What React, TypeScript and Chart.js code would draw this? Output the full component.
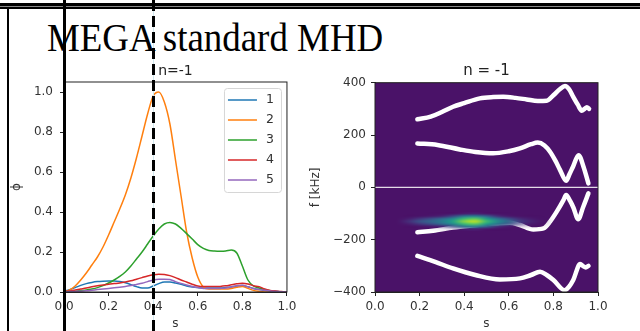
import React, { useEffect, useRef } from 'react';
import { Chart, registerables } from 'chart.js';

Chart.register(...registerables);

// ---------------- Left panel data (phi vs s) ----------------
const sGrid = [
  0, 0.025, 0.05, 0.075, 0.1, 0.125, 0.15, 0.175, 0.2, 0.225, 0.25, 0.275, 0.3, 0.325, 0.35, 0.375,
  0.4, 0.425, 0.45, 0.475, 0.5, 0.525, 0.55, 0.575, 0.6, 0.625, 0.65, 0.675, 0.7, 0.725, 0.75, 0.775,
  0.8, 0.825, 0.85, 0.875, 0.9, 0.925, 0.95, 0.975, 1.0,
];
const phi1 = [
  0.003, 0.012, 0.022, 0.033, 0.042, 0.048, 0.052, 0.054, 0.055, 0.055, 0.052, 0.046, 0.037, 0.027, 0.02, 0.02,
  0.03, 0.042, 0.05, 0.05, 0.045, 0.038, 0.03, 0.025, 0.022, 0.02, 0.02, 0.02, 0.02, 0.022, 0.025, 0.03,
  0.032, 0.026, 0.018, 0.012, 0.008, 0.005, 0.003, 0.001, 0.0,
];
const phi2 = [
  0.0, 0.01, 0.03, 0.06, 0.095, 0.135, 0.175, 0.225, 0.285, 0.35, 0.415, 0.485, 0.57, 0.67, 0.78, 0.89,
  0.98, 1.0, 0.95, 0.84, 0.66, 0.48, 0.3, 0.17, 0.075, 0.025, 0.015, 0.015, 0.015, 0.015, 0.018, 0.024,
  0.028, 0.018, 0.008, 0.003, 0.0, 0.0, 0.0, 0.0, 0.0,
];
const phi3 = [
  0.0, 0.002, 0.004, 0.007, 0.01, 0.015, 0.022, 0.032, 0.045, 0.06, 0.078, 0.1, 0.13, 0.165, 0.2, 0.24,
  0.28, 0.315, 0.34, 0.348, 0.34, 0.318, 0.292, 0.265, 0.237, 0.218, 0.208, 0.205, 0.204, 0.205, 0.21, 0.195,
  0.13, 0.06, 0.03, 0.02, 0.012, 0.006, 0.003, 0.001, 0.0,
];
const phi4 = [
  0.002, 0.005, 0.01, 0.015, 0.02, 0.026, 0.031, 0.035, 0.039, 0.042, 0.045, 0.05, 0.056, 0.064, 0.072, 0.08,
  0.086, 0.089, 0.088, 0.082, 0.072, 0.06, 0.05, 0.039, 0.03, 0.027, 0.027, 0.027, 0.028, 0.031, 0.036, 0.041,
  0.044, 0.04, 0.031, 0.027, 0.015, 0.008, 0.005, 0.002, 0.0,
];
const phi5 = [
  0.001, 0.002, 0.003, 0.004, 0.006, 0.009, 0.012, 0.015, 0.018, 0.021, 0.024, 0.027, 0.032, 0.038, 0.044, 0.052,
  0.06, 0.064, 0.064, 0.062, 0.052, 0.043, 0.035, 0.028, 0.022, 0.018, 0.017, 0.017, 0.018, 0.02, 0.025, 0.031,
  0.034, 0.026, 0.018, 0.013, 0.009, 0.005, 0.003, 0.001, 0.0,
];
const seriesLabels = ['1', '2', '3', '4', '5'];
const seriesColors = ['#1f77b4', '#ff7f0e', '#2ca02c', '#d62728', '#9467bd'];
const sTicks = [0, 0.2, 0.4, 0.6, 0.8, 1.0];
const phiTicks = [0, 0.2, 0.4, 0.6, 0.8, 1.0];

// ---------------- Right panel data (f vs s) ----------------
const up1S = [0.19, 0.25, 0.3, 0.35, 0.4, 0.47, 0.53, 0.575, 0.63, 0.68, 0.73, 0.77, 0.8, 0.83, 0.852, 0.87, 0.889, 0.91, 0.927, 0.94, 0.95, 0.96];
const up1F = [260, 270, 288, 308, 322, 340, 345, 346, 342, 336, 330, 331, 352, 376, 387, 375, 346, 315, 293, 300, 306, 300];
const up2S = [0.19, 0.28, 0.38, 0.45, 0.53, 0.6, 0.65, 0.7, 0.73, 0.76, 0.785, 0.81, 0.83, 0.857, 0.872, 0.888, 0.913, 0.935, 0.957];
const up2F = [168, 162, 145, 135, 130, 138, 149, 165, 171, 160, 136, 100, 66, 25, 50, 79, 123, 79, 15];
const lo1S = [0.19, 0.26, 0.35, 0.43, 0.5, 0.56, 0.605, 0.65, 0.71, 0.755, 0.785, 0.815, 0.845, 0.857, 0.875, 0.89, 0.911, 0.934, 0.957];
const lo1F = [-172, -166, -154, -146, -140, -136, -135, -144, -161, -157, -131, -93, -49, -29, -52, -78, -122, -74, -23];
const lo2S = [0.19, 0.27, 0.35, 0.45, 0.56, 0.65, 0.7, 0.74, 0.77, 0.8, 0.85, 0.87, 0.889, 0.92, 0.935, 0.945, 0.957];
const lo2F = [-262, -285, -310, -335, -352, -348, -335, -323, -335, -354, -393, -380, -354, -293, -302, -306, -300];
const zeroS = [0, 1];
const zeroF = [0, 0];
const fTicks = [-400, -200, 0, 200, 400];

// spectral blob cells: rows = frequencies, cols = s
const blobS = [0.1, 0.15, 0.2, 0.25, 0.3, 0.35, 0.4, 0.45, 0.5, 0.55, 0.6, 0.65, 0.7, 0.75, 0.8];
const blobF = [-100, -110, -120, -130, -140, -150, -160];
const blobGrid = [
  [0, 0, 0, 0.01, 0.02, 0.05, 0.1, 0.12, 0.07, 0.03, 0.01, 0, 0, 0, 0],
  [0, 0.03, 0.07, 0.1, 0.15, 0.24, 0.38, 0.42, 0.3, 0.18, 0.1, 0.06, 0.03, 0.01, 0],
  [0, 0.12, 0.2, 0.26, 0.34, 0.47, 0.68, 0.75, 0.55, 0.38, 0.26, 0.17, 0.11, 0.05, 0],
  [0, 0.18, 0.27, 0.33, 0.42, 0.58, 0.82, 0.9, 0.68, 0.48, 0.33, 0.22, 0.15, 0.08, 0],
  [0, 0.12, 0.2, 0.26, 0.34, 0.47, 0.68, 0.75, 0.55, 0.38, 0.26, 0.17, 0.11, 0.05, 0],
  [0, 0.03, 0.07, 0.1, 0.15, 0.24, 0.38, 0.42, 0.3, 0.18, 0.1, 0.06, 0.03, 0.01, 0],
  [0, 0, 0, 0.01, 0.02, 0.05, 0.1, 0.12, 0.07, 0.03, 0.01, 0, 0, 0, 0],
];

const FONT = "'DejaVu Sans'";
const TXT = '#333';
const BG_PURPLE = '#4a1268';

const VIRIDIS = [
  [68, 1, 84], [72, 36, 117], [65, 68, 135], [53, 95, 141], [42, 120, 142], [33, 145, 140],
  [34, 168, 132], [68, 191, 112], [122, 209, 81], [189, 223, 38], [253, 231, 37],
];
function viridis(v: number): number[] {
  const t = Math.max(0, Math.min(1, v)) * 10;
  const i = Math.min(9, Math.floor(t));
  const f = t - i;
  const a = VIRIDIS[i], b = VIRIDIS[i + 1];
  return [0, 1, 2].map((k) => Math.round(a[k] + (b[k] - a[k]) * f));
}

const framePlugin = {
  id: 'frame',
  afterDraw(chart: any) {
    const { ctx, chartArea } = chart;
    ctx.save();
    ctx.strokeStyle = '#222';
    ctx.lineWidth = 1;
    ctx.strokeRect(chartArea.left, chartArea.top, chartArea.right - chartArea.left, chartArea.bottom - chartArea.top);
    ctx.restore();
  },
};

const legendPlugin = {
  id: 'insideLegend',
  afterDatasetsDraw(chart: any) {
    const { ctx, chartArea } = chart;
    const w = 57, h = 104;
    const x0 = chartArea.right - 6 - w;
    const y0 = chartArea.top + 6;
    ctx.save();
    ctx.beginPath();
    if (ctx.roundRect) ctx.roundRect(x0 + 0.5, y0 + 0.5, w, h, 3);
    else ctx.rect(x0 + 0.5, y0 + 0.5, w, h);
    ctx.fillStyle = 'rgba(255,255,255,0.8)';
    ctx.fill();
    ctx.strokeStyle = '#d6d6d6';
    ctx.lineWidth = 1;
    ctx.stroke();
    chart.data.datasets.forEach((ds: any, i: number) => {
      const cy = y0 + 12 + i * 20;
      ctx.beginPath();
      ctx.strokeStyle = ds.borderColor;
      ctx.lineWidth = 1.5;
      ctx.moveTo(x0 + 4, cy);
      ctx.lineTo(x0 + 33, cy);
      ctx.stroke();
      ctx.fillStyle = TXT;
      ctx.font = `12.5px ${FONT}`;
      ctx.textBaseline = 'middle';
      ctx.textAlign = 'left';
      ctx.fillText(ds.label, x0 + 42, cy);
    });
    ctx.restore();
  },
};

const purpleBgPlugin = {
  id: 'purpleBg',
  beforeDatasetsDraw(chart: any) {
    const { ctx, chartArea } = chart;
    ctx.save();
    ctx.fillStyle = BG_PURPLE;
    ctx.fillRect(chartArea.left, chartArea.top, chartArea.right - chartArea.left, chartArea.bottom - chartArea.top);
    ctx.restore();
  },
};

const blobPlugin = {
  id: 'blob',
  afterDatasetsDraw(chart: any) {
    const { ctx, chartArea, scales } = chart;
    const rows = blobF.length, cols = blobS.length;
    const off = document.createElement('canvas');
    off.width = cols;
    off.height = rows;
    const octx = off.getContext('2d');
    if (!octx) return;
    const img = octx.createImageData(cols, rows);
    for (let r = 0; r < rows; r++) {
      for (let c = 0; c < cols; c++) {
        const v = blobGrid[r][c];
        const col = viridis(Math.max(v, 0.03));
        const idx = (r * cols + c) * 4;
        img.data[idx] = col[0];
        img.data[idx + 1] = col[1];
        img.data[idx + 2] = col[2];
        img.data[idx + 3] = Math.round(255 * Math.min(1, v * 3.5));
      }
    }
    octx.putImageData(img, 0, 0);
    const hs = (blobS[1] - blobS[0]) / 2;
    const hf = (blobF[0] - blobF[1]) / 2;
    const x0 = scales.x.getPixelForValue(blobS[0] - hs);
    const x1 = scales.x.getPixelForValue(blobS[cols - 1] + hs);
    const y0 = scales.y.getPixelForValue(blobF[0] + hf);
    const y1 = scales.y.getPixelForValue(blobF[rows - 1] - hf);
    ctx.save();
    ctx.beginPath();
    ctx.rect(chartArea.left, chartArea.top, chartArea.right - chartArea.left, chartArea.bottom - chartArea.top);
    ctx.clip();
    ctx.imageSmoothingEnabled = true;
    ctx.imageSmoothingQuality = 'high';
    ctx.drawImage(off, x0, y0, x1 - x0, y1 - y0);
    ctx.restore();
  },
};

function axisCommon(extra: any) {
  return {
    type: 'linear',
    ticks: {
      font: { family: FONT, size: 12 },
      color: TXT,
      autoSkip: false,
      maxRotation: 0,
      ...extra.ticks,
    },
    grid: { display: true, drawOnChartArea: false, drawTicks: true, tickLength: 4, color: '#222', lineWidth: 1 },
    border: { display: true, color: '#222', width: 1 },
    title: { display: true, color: TXT, font: { family: FONT, size: 12 }, ...extra.title },
    min: extra.min,
    max: extra.max,
    afterFit: extra.afterFit,
    afterBuildTicks: extra.afterBuildTicks,
  };
}

export default function App() {
  const leftRef = useRef<HTMLCanvasElement | null>(null);
  const rightRef = useRef<HTMLCanvasElement | null>(null);

  useEffect(() => {
    const phiSeries = [phi1, phi2, phi3, phi4, phi5];
    const left = new Chart(leftRef.current as HTMLCanvasElement, {
      type: 'scatter',
      data: {
        datasets: phiSeries.map((vals, i) => ({
          label: seriesLabels[i],
          data: sGrid.map((s, j) => ({ x: s, y: vals[j] })),
          showLine: true,
          borderColor: seriesColors[i],
          backgroundColor: seriesColors[i],
          borderWidth: 1.5,
          pointRadius: 0,
          cubicInterpolationMode: 'monotone',
          order: phiSeries.length - i,
        })),
      },
      options: {
        animation: false,
        responsive: false,
        devicePixelRatio: 1,
        events: [],
        layout: { padding: { top: 22, right: 13, bottom: 0, left: 0 } },
        plugins: { legend: { display: false }, tooltip: { enabled: false }, title: { display: false } },
        scales: {
          x: axisCommon({
            min: 0,
            max: 1,
            ticks: { padding: 3.5, callback: (v: any) => Number(v).toFixed(1) },
            title: { text: 's', padding: { top: 0, bottom: 0 } },
            afterFit: (s: any) => { s.height = 39; },
            afterBuildTicks: (s: any) => { s.ticks = sTicks.map((v) => ({ value: v })); },
          }),
          y: axisCommon({
            min: 0,
            max: 1.05,
            ticks: { padding: 7, callback: (v: any) => Number(v).toFixed(1) },
            title: { text: 'ϕ', padding: { top: 10, bottom: 0 } },
            afterFit: (s: any) => { s.width = 64; },
            afterBuildTicks: (s: any) => { s.ticks = phiTicks.map((v) => ({ value: v })); },
          }),
        },
      } as any,
      plugins: [framePlugin, legendPlugin],
    } as any);

    const curves = [
      [up1S, up1F],
      [up2S, up2F],
      [lo1S, lo1F],
      [lo2S, lo2F],
    ];
    const right = new Chart(rightRef.current as HTMLCanvasElement, {
      type: 'scatter',
      data: {
        datasets: [
          {
            label: 'zero',
            data: zeroS.map((s, j) => ({ x: s, y: zeroF[j] })),
            showLine: true,
            borderColor: 'rgba(255,255,255,0.85)',
            borderWidth: 1.3,
            pointRadius: 0,
          },
          ...curves.map(([ss, ff], i) => ({
            label: 'continuum ' + (i + 1),
            data: ss.map((s, j) => ({ x: s, y: ff[j] })),
            showLine: true,
            borderColor: '#ffffff',
            borderWidth: 4.5,
            borderCapStyle: 'round',
            borderJoinStyle: 'round',
            pointRadius: 0,
            cubicInterpolationMode: 'monotone',
          })),
        ],
      },
      options: {
        animation: false,
        responsive: false,
        devicePixelRatio: 1,
        events: [],
        layout: { padding: { top: 22.7, right: 42, bottom: 0, left: 0 } },
        plugins: { legend: { display: false }, tooltip: { enabled: false }, title: { display: false } },
        scales: {
          x: axisCommon({
            min: 0,
            max: 1,
            ticks: { padding: 3.5, callback: (v: any) => Number(v).toFixed(1) },
            title: { text: 's', padding: { top: 0, bottom: 0 } },
            afterFit: (s: any) => { s.height = 39; },
            afterBuildTicks: (s: any) => { s.ticks = sTicks.map((v) => ({ value: v })); },
          }),
          y: axisCommon({
            min: -400,
            max: 400,
            ticks: { padding: 5, callback: (v: any) => String(v).replace('-', '\u2212') },
            title: { text: 'f [kHz]', padding: { top: 9, bottom: 0 } },
            afterFit: (s: any) => { s.width = 75; },
            afterBuildTicks: (s: any) => { s.ticks = fTicks.map((v) => ({ value: v })); },
          }),
        },
      } as any,
      plugins: [purpleBgPlugin, blobPlugin, framePlugin],
    } as any);

    return () => {
      left.destroy();
      right.destroy();
    };
  }, []);

  const abs = (s: React.CSSProperties): React.CSSProperties => ({ position: 'absolute', ...s });

  return (
    <div
      style={{
        position: 'fixed',
        left: 0,
        top: 0,
        width: 640,
        height: 331,
        overflow: 'hidden',
        background: '#ffffff',
      }}
    >
      <canvas ref={leftRef} width={300} height={271} style={abs({ left: 0, top: 60 })} />
      <canvas ref={rightRef} width={340} height={271} style={abs({ left: 300, top: 60 })} />

      <div
        style={abs({
          left: 75.5,
          top: 62,
          width: 200,
          textAlign: 'center',
          font: `14px ${FONT}`,
          lineHeight: '16px',
          color: '#222',
        })}
      >
        n=-1
      </div>
      <div
        style={abs({
          left: 386.5,
          top: 62,
          width: 200,
          textAlign: 'center',
          font: `15px ${FONT}`,
          lineHeight: '16px',
          color: '#222',
        })}
      >
        n = -1
      </div>

      <div
        style={abs({
          left: 47,
          top: 16.7,
          fontFamily: "'Liberation Serif', serif",
          fontSize: 41,
          lineHeight: '41px',
          color: '#000',
          whiteSpace: 'nowrap',
          transform: 'scaleX(0.9)',
          transformOrigin: 'left top',
        })}
      >
        MEGA standard MHD
      </div>

      {/* slide frame lines */}
      <div style={abs({ left: 0, top: 3, width: 640, height: 3, background: '#000' })} />
      <div style={abs({ left: 0, top: 6, width: 640, height: 1, background: '#888' })} />
      <div style={abs({ left: 0, top: 7, width: 640, height: 2.3, background: '#000' })} />
      <div style={abs({ left: 7, top: 9, width: 2, height: 322, background: '#000' })} />
      <div style={abs({ left: 63, top: 0, width: 2.5, height: 331, background: '#000' })} />
      <div style={abs({ left: 153.3, top: 0, width: 1, height: 331, background: '#cfe7ee' })} />
      <div
        style={abs({
          left: 152.3,
          top: 0,
          width: 3,
          height: 331,
          background: 'repeating-linear-gradient(to bottom, #000 0px, #000 11px, transparent 11px, transparent 16px)',
        })}
      />
    </div>
  );
}
